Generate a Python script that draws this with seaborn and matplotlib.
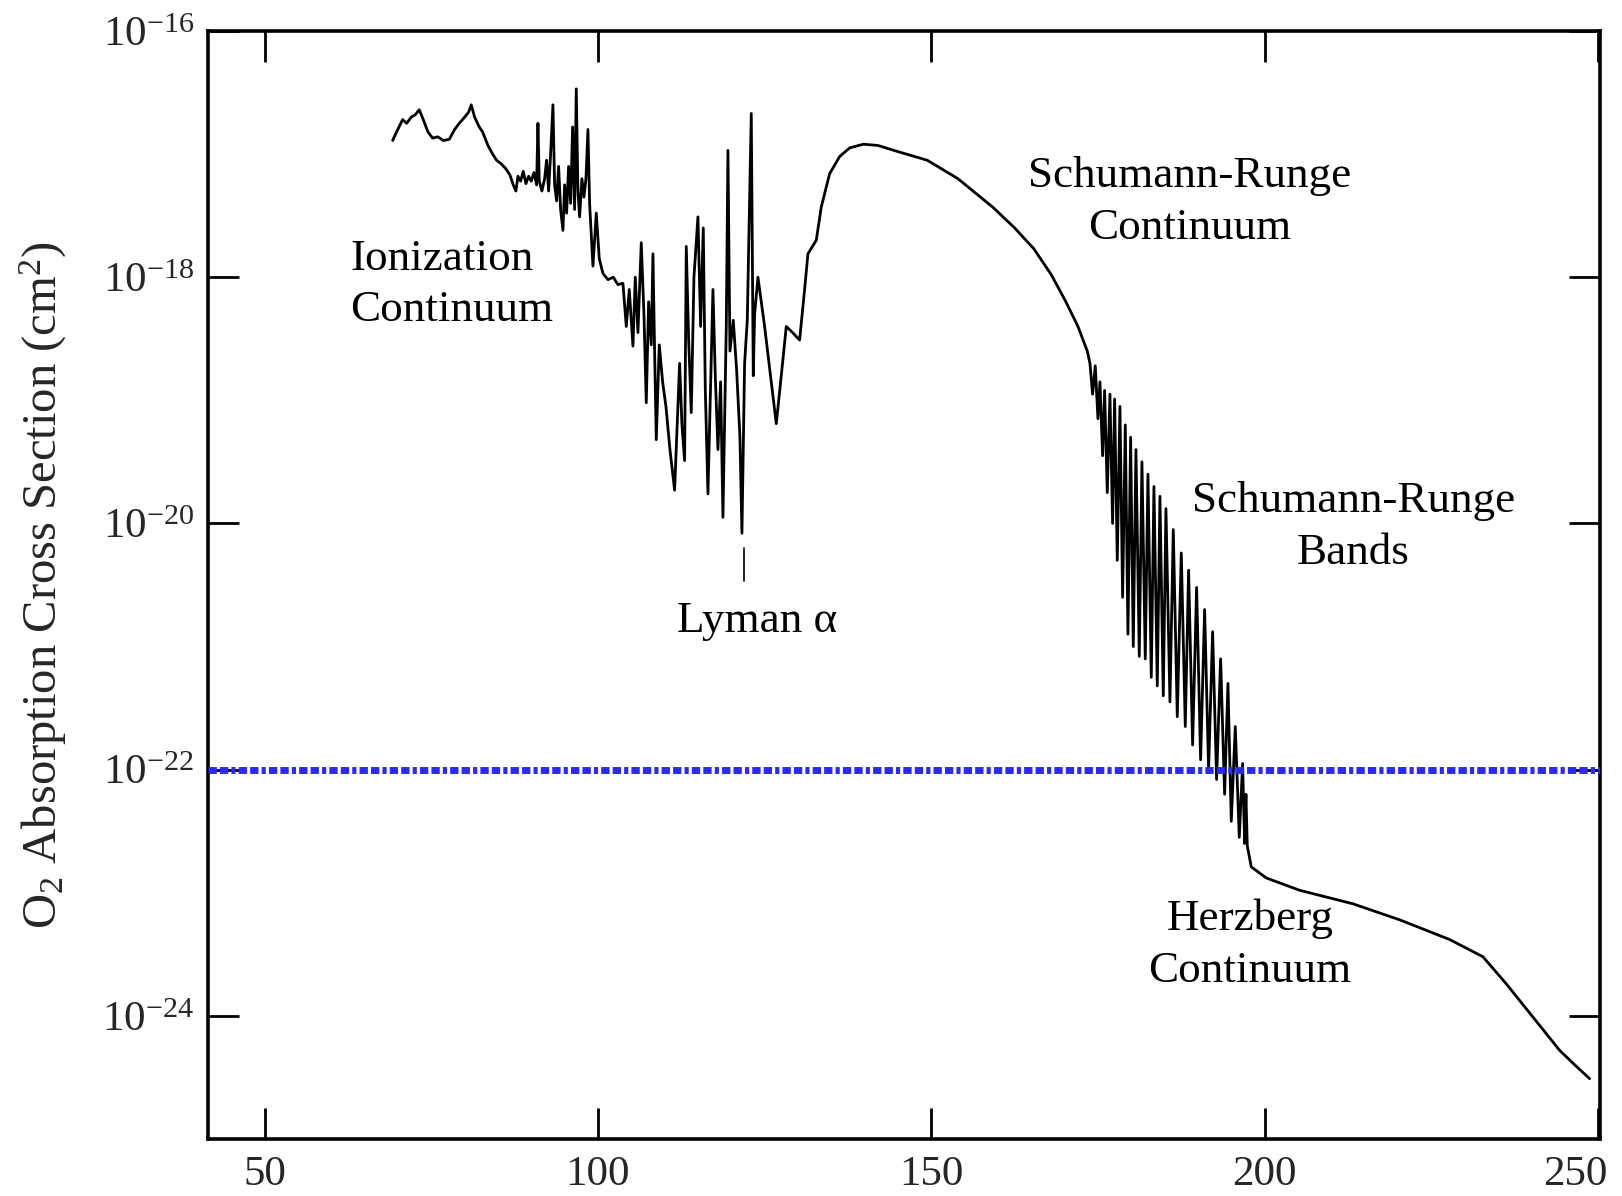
import numpy as np
import pandas as pd
import matplotlib
matplotlib.use("Agg")
import matplotlib.pyplot as plt
import matplotlib.transforms as mtransforms
import seaborn as sns

# ---- data (wavelength in nm, log10 of cross section in cm^2) ----
wavelength = [
    69.2, 69.8, 70.7, 71.3, 72.0, 72.6, 73.2, 73.8, 74.5, 75.2, 76.0, 76.8, 77.7, 78.5, 79.2,
    80.0, 80.6, 81.0, 81.5, 82.2, 82.7, 83.5, 84.2, 84.8, 85.5, 86.2, 86.8, 87.3, 87.7, 88.0,
    88.4, 88.8, 89.2, 89.6, 90.0, 90.4, 90.8, 91.0, 91.2, 91.6, 92.0, 92.3, 92.6, 92.9, 93.25,
    93.5, 93.8, 94.1, 94.4, 94.75, 95.0, 95.3, 95.6, 95.9, 96.2, 96.5, 96.75, 97.0, 97.25, 97.6,
    97.9, 98.2, 98.5, 98.75, 99.25, 99.75, 100.2, 100.75, 101.5, 102.3, 103.0, 103.75, 104.25,
    104.7, 105.25, 105.6, 106.0, 106.5, 106.9, 107.25, 107.6, 108.0, 108.25, 108.5, 108.75,
    109.2, 109.7, 110.2, 110.8, 111.5, 112.25, 112.6, 113.0, 113.25, 113.6, 114.0, 114.4, 115.0,
    115.4, 115.8, 116.1, 116.5, 117.25, 117.6, 118.0, 118.4, 118.75, 119.25, 119.5, 119.8,
    120.3, 120.8, 121.3, 121.6, 122.0, 122.4, 123.0, 123.3, 123.5, 124.0, 125.0, 126.0, 126.75,
    127.5, 128.25, 129.2, 130.25, 131.0, 131.5, 132.75, 133.5, 134.75, 136.25, 137.75, 139.8,
    142.0, 145.0, 149.4, 154.0, 159.2, 162.5, 165.4, 168.0, 170.1, 172.0, 173.4,
    173.8, 174.2, 174.6, 175.0, 175.3, 175.7, 176.0, 176.4, 176.8, 177.2, 177.5, 177.9, 178.3,
    178.7, 179.1, 179.5, 179.9, 180.3, 180.7, 181.2, 181.6, 182.1, 182.5, 183.0, 183.4, 183.9,
    184.3, 184.8, 185.2, 185.8, 186.3, 186.9, 187.5, 188.1, 188.6, 189.2, 189.8, 190.4, 191.0,
    191.6, 192.2, 192.8, 193.4, 194.0, 194.5, 195.0, 195.6, 196.2, 196.7, 197.0, 197.2, 197.4,
    198.0, 200.25, 205.25, 213.25, 220.25, 227.75, 232.75, 236.25, 240.25, 244.25, 246.75, 248.75,
]
log_sigma = [
    -16.89, -16.82, -16.72, -16.75, -16.70, -16.68, -16.64, -16.72, -16.82, -16.87, -16.86, -16.89, -16.88, -16.80, -16.75,
    -16.70, -16.66, -16.60, -16.70, -16.78, -16.82, -16.93, -17.00, -17.05, -17.08, -17.12, -17.17, -17.25, -17.30, -17.18,
    -17.22, -17.14, -17.24, -17.18, -17.22, -17.15, -17.25, -16.75, -17.22, -17.30, -17.20, -17.05, -17.30, -17.00, -16.60,
    -17.25, -17.38, -17.10, -17.45, -17.62, -17.25, -17.48, -17.10, -17.40, -16.78, -17.45, -16.47, -17.30, -17.51, -17.20,
    -17.35, -17.20, -16.80, -17.40, -17.91, -17.48, -17.85, -17.97, -18.02, -18.00, -18.06, -18.05, -18.40,
    -18.10, -18.56, -18.00, -18.45, -17.72, -18.30, -19.02, -18.20, -18.55, -17.81, -18.60, -19.32,
    -18.55, -18.85, -19.05, -19.40, -19.73, -18.70, -19.20, -19.49, -17.75, -18.50, -19.10, -18.00, -17.51,
    -18.40, -17.60, -18.90, -19.76, -18.10, -18.80, -19.40, -18.85, -19.95, -18.40, -16.97, -18.60,
    -18.35, -18.75, -19.30, -20.08, -18.70, -18.35, -16.67, -18.80, -18.30, -18.00, -18.40, -18.85, -19.19,
    -18.80, -18.40, -18.45, -18.51, -18.10, -17.81, -17.70, -17.43, -17.16, -17.02, -16.95, -16.92,
    -16.93, -16.98, -17.05, -17.20, -17.43, -17.60, -17.77, -17.98, -18.19, -18.40, -18.60,
    -18.70, -18.95, -18.72, -19.15, -18.85, -19.45, -18.92, -19.75, -18.95, -20.00, -18.99, -20.30, -19.05,
    -20.60, -19.20, -20.90, -19.30, -21.00, -19.40, -21.08, -19.50, -21.10, -19.60, -21.25, -19.70, -21.32,
    -19.78, -21.40, -19.88, -21.45, -20.05, -21.57, -20.24, -21.65, -20.38, -21.80, -20.52, -21.92, -20.70,
    -22.00, -20.88, -22.08, -21.10, -22.20, -21.30, -22.42, -21.65, -22.55, -21.95, -22.60, -22.20, -22.62,
    -22.79, -22.88, -22.98, -23.09, -23.22, -23.38, -23.52, -23.74, -24.01, -24.28, -24.41, -24.51,
]

threshold = 1e-22
x_ticks = [50, 100, 150, 200, 250]
x_ticklabels = ["50", "100", "150", "200", "250"]
y_ticks = [1e-16, 1e-18, 1e-20, 1e-22, 1e-24]
y_ticklabels = [r"$\mathregular{10^{-16}}$", r"$\mathregular{10^{-18}}$", r"$\mathregular{10^{-20}}$",
                r"$\mathregular{10^{-22}}$", r"$\mathregular{10^{-24}}$"]

labels = ["Ionization\nContinuum", "Schumann-Runge\nContinuum", "Schumann-Runge\nBands",
          "Lyman α", "Herzberg\nContinuum"]
label_x = [62.8, 188.7, 213.3, 123.9, 197.8]
label_logy = [-18.06, -17.39, -20.03, -20.79, -23.42]
label_ha = ["left", "center", "center", "center", "center"]
label_ma = ["left", "center", "center", "center", "center"]

lyman_tick_x = [121.9, 121.9]
lyman_tick_logy = [-20.20, -20.47]

# ---- style ----
sns.set_style("ticks")
plt.rcParams["font.family"] = ["Liberation Serif", "DejaVu Serif"]
plt.rcParams["mathtext.fontset"] = "custom"
plt.rcParams["mathtext.rm"] = "Liberation Serif"
plt.rcParams["mathtext.it"] = "Liberation Serif:italic"

df = pd.DataFrame({"wavelength": wavelength, "sigma": 10.0 ** np.array(log_sigma)})

fig = plt.figure(figsize=(16.22, 11.96), dpi=100)
ax = fig.add_axes([0.1282, 0.0477, 0.8582, 0.9264])

sns.lineplot(data=df, x="wavelength", y="sigma", ax=ax, color="black", linewidth=2.0,
             estimator=None, sort=False)
ax.axhline(threshold, color="#2b2bf0", linewidth=5,
           linestyle=(0, (1.2, 0.45, 1.2, 0.45, 0.6, 0.45)), zorder=5)

ax.set_yscale("log")
ax.set_xlim(41.5, 250.3)
ax.set_ylim(1e-25, 1e-16)
ax.set_xticks(x_ticks)
ax.set_xticklabels(x_ticklabels)
ax.set_yticks(y_ticks)
ax.set_yticklabels(y_ticklabels)
ax.yaxis.set_minor_locator(matplotlib.ticker.NullLocator())
ax.tick_params(axis="both", which="major", direction="in", length=22, width=2,
               labelsize=31, top=True, right=True, pad=10, color="black")
ax.tick_params(axis="x", pad=12)
for s in ax.spines.values():
    s.set_linewidth(2.6)
    s.set_color("black")

# the last x label sits slightly left of its tick in the reference
last = ax.get_xticklabels()[-1]
last.set_transform(last.get_transform() + mtransforms.ScaledTranslation(-16 / 72, 0, fig.dpi_scale_trans))

ax.set_xlabel("")
ax.set_ylabel(r"O$_2$ Absorption Cross Section (cm$^2$)", fontsize=35, labelpad=24)

for t, x, ly, ha, ma in zip(labels, label_x, label_logy, label_ha, label_ma):
    ax.text(x, 10.0 ** ly, t, fontsize=32.5, ha=ha, va="center", multialignment=ma,
            linespacing=1.38, color="black")

ax.plot(lyman_tick_x, 10.0 ** np.array(lyman_tick_logy), color="black", linewidth=1.2)

fig.savefig("out.png", dpi=100)
